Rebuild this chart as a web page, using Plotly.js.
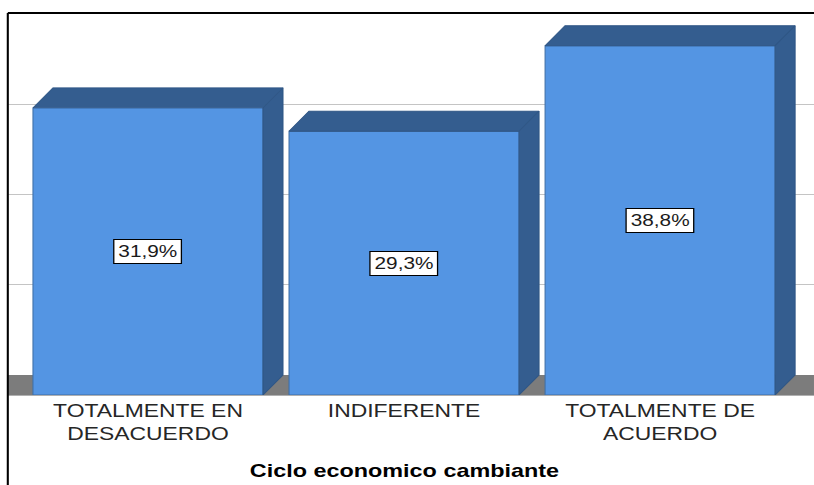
<!DOCTYPE html>
<html>
<head>
<meta charset="utf-8">
<script src="https://cdn.plot.ly/plotly-3.0.1.min.js"></script>
<style>
  body { margin: 0; background: #fff; overflow: hidden; }
  /* the source picture is stretched sideways, so the whole chart is too */
  #chart { width: 626px; height: 485px; transform: scaleX(1.3003); transform-origin: 0 0; }
</style>
</head>
<body>
<div id="chart"></div>
<script>
// Data
const categories = ['TOTALMENTE EN<br>DESACUERDO', 'INDIFERENTE', 'TOTALMENTE DE<br>ACUERDO'];
const percentages = [31.9, 29.3, 38.8];
const gridValues = [10, 20, 30];
const xTitle = 'Ciclo economico cambiante';

// 3D look: bar width and the depth offset of the back wall (in axis units)
const positions = categories.map((_, i) => i);
const barWidth = 0.8985;
const depthX = 0.078;
const depthY = 2.222;

const frontColor = '#5495e3';
const darkColor = '#345d8f';
const font = 'Liberation Sans, Arial, sans-serif';

const data = [];

// front faces
data.push({
  type: 'bar',
  x: positions,
  y: percentages,
  width: barWidth,
  marker: { color: frontColor, line: { color: '#3f6fa6', width: 0.8 } },
  hoverinfo: 'skip'
});

// top and side faces of each bar
percentages.forEach((v, i) => {
  const left = i - barWidth / 2;
  const right = i + barWidth / 2;
  data.push({
    type: 'scatter',
    mode: 'lines',
    x: [left, left + depthX, right + depthX, right, left],
    y: [v, v + depthY, v + depthY, v, v],
    fill: 'toself',
    fillcolor: darkColor,
    line: { color: '#2f5685', width: 0.8 },
    hoverinfo: 'skip'
  });
  data.push({
    type: 'scatter',
    mode: 'lines',
    x: [right, right + depthX, right + depthX, right, right],
    y: [0, depthY, v + depthY, v, 0],
    fill: 'toself',
    fillcolor: darkColor,
    line: { color: '#2f5685', width: 0.8 },
    hoverinfo: 'skip'
  });
});

// value labels in white boxes
const annotations = percentages.map((v, i) => ({
  x: i,
  y: v / 2,
  xref: 'x',
  yref: 'y',
  text: v.toFixed(1).replace('.', ',') + '%',
  showarrow: false,
  font: { family: font, size: 16, color: '#1a1a1a' },
  bgcolor: '#ffffff',
  bordercolor: '#000000',
  borderwidth: 1,
  borderpad: 3
}));

annotations.push({
  x: 1,
  y: -0.2,
  xref: 'x',
  yref: 'paper',
  text: '<b>' + xTitle + '</b>',
  showarrow: false,
  yanchor: 'middle',
  font: { family: font, size: 18, color: '#000' }
});

const layout = {
  width: 626,
  height: 485,
  margin: { l: 6, r: 0, t: 13, b: 90 },
  paper_bgcolor: '#ffffff',
  plot_bgcolor: '#ffffff',
  showlegend: false,
  xaxis: {
    range: [-0.5475, 2.601],
    tickvals: positions,
    ticktext: categories,
    ticks: '',
    showgrid: false,
    zeroline: false,
    showline: true,
    linecolor: '#b0b0b0',
    linewidth: 1,
    tickfont: { family: font, size: 17.6, color: '#262626' },
    fixedrange: true
  },
  yaxis: {
    range: [0, 42.44],
    tickvals: gridValues.map(g => g + depthY),
    showticklabels: false,
    ticks: '',
    showgrid: true,
    gridcolor: '#c4c4c4',
    gridwidth: 1,
    zeroline: false,
    fixedrange: true
  },
  shapes: [
    // floor
    { type: 'rect', xref: 'paper', yref: 'y', x0: 0, x1: 1, y0: 0, y1: depthY,
      fillcolor: '#7c7c7c', line: { width: 0 }, layer: 'below' },
    // frame
    { type: 'line', xref: 'paper', yref: 'paper', x0: 0, x1: 1.05, y0: 1, y1: 1,
      line: { color: '#000', width: 2 } },
    { type: 'line', xref: 'paper', yref: 'paper', x0: 0, x1: 0, y0: 1, y1: -0.3,
      line: { color: '#000', width: 1.6 } }
  ],
  annotations: annotations
};

Plotly.newPlot('chart', data, layout, { displayModeBar: false, staticPlot: true });
</script>
</body>
</html>
